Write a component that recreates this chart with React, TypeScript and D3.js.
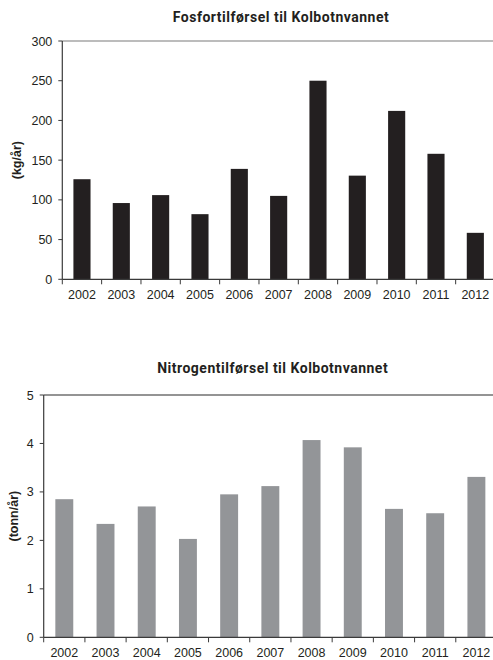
import React from "react";
import * as d3 from "d3";

const years = ["2002","2003","2004","2005","2006","2007","2008","2009","2010","2011","2012"];
const fosfor = [126, 96, 106, 82, 139, 105, 250, 130.5, 212, 158, 58.5];
const nitrogen = [2.85, 2.34, 2.7, 2.03, 2.95, 3.12, 4.07, 3.92, 2.65, 2.56, 3.31];
const fosforTicks = [0, 50, 100, 150, 200, 250, 300];
const nitrogenTicks = [0, 1, 2, 3, 4, 5];

type PanelProps = {
  title: string;
  yLabel: string;
  values: number[];
  ticks: number[];
  yMax: number;
  left: number;
  right: number;
  top: number;
  bottom: number;
  titleX: number;
  titleY: number;
  yLabelX: number;
  barColor: string;
  topColor: string;
};

function Panel(p: PanelProps) {
  const x = d3.scaleBand<string>().domain(years).range([p.left, p.right]).paddingInner(0.565).paddingOuter(0.2825);
  const y = d3.scaleLinear().domain([0, p.yMax]).range([p.bottom, p.top]);
  const step = (p.right - p.left) / years.length;
  const axisColor = "#3a3a3a";
  const tickFont = "Liberation Sans, Arial, sans-serif";
  return (
    <g>
      <text x={p.titleX} y={p.titleY} textAnchor="middle" fontFamily="Roboto, sans-serif" fontWeight={700} fontSize={14} letterSpacing={0.5} fill="#231f20">{p.title}</text>
      <text transform={`translate(${p.yLabelX},${(p.top + p.bottom) / 2}) rotate(-90)`} textAnchor="middle" fontFamily={tickFont} fontWeight={700} fontSize={12.5} fill="#231f20">{p.yLabel}</text>
      {years.map((yr, i) => (
        <rect key={yr} x={x(yr)} y={y(p.values[i])} width={x.bandwidth()} height={p.bottom - y(p.values[i])} fill={p.barColor} />
      ))}
      <line x1={p.left} x2={p.right} y1={p.top} y2={p.top} stroke={p.topColor} strokeWidth={1.2} />
      <line x1={p.left} x2={p.left} y1={p.top} y2={p.bottom} stroke={axisColor} strokeWidth={1.2} />
      <line x1={p.left} x2={p.right} y1={p.bottom} y2={p.bottom} stroke={axisColor} strokeWidth={1.2} />
      {p.ticks.map((t) => (
        <g key={t}>
          <line x1={p.left - 4} x2={p.left} y1={y(t)} y2={y(t)} stroke={axisColor} strokeWidth={1} />
          <text x={p.left - 10} y={y(t)} dy="0.36em" textAnchor="end" fontFamily={tickFont} fontSize={12.5} fill="#231f20">{t}</text>
        </g>
      ))}
      {d3.range(years.length + 1).map((i) => (
        <line key={i} x1={p.left + i * step} x2={p.left + i * step} y1={p.bottom} y2={p.bottom + 5} stroke={axisColor} strokeWidth={1} />
      ))}
      {years.map((yr) => (
        <text key={yr} x={(x(yr) as number) + x.bandwidth() / 2} y={p.bottom + 20} textAnchor="middle" fontFamily={tickFont} fontSize={12.5} fill="#231f20">{yr}</text>
      ))}
    </g>
  );
}

export default function App() {
  return (
    <svg width={493} height={660} style={{ position: "absolute", left: 0, top: 0, background: "#fff" }}>
      <rect width={493} height={660} fill="#fff" />
      <Panel title="Fosfortilførsel til Kolbotnvannet" yLabel="(kg/år)" values={fosfor} ticks={fosforTicks} yMax={300}
        left={62.3} right={495} top={41} bottom={279.3} titleX={281} titleY={22} yLabelX={21} barColor="#231f20" topColor="#7a7a7a" />
      <Panel title="Nitrogentilførsel til Kolbotnvannet" yLabel="(tonn/år)" values={nitrogen} ticks={nitrogenTicks} yMax={5}
        left={43.7} right={497} top={395} bottom={637.3} titleX={272.7} titleY={373} yLabelX={18} barColor="#939598" topColor="#2a2a2a" />
    </svg>
  );
}
